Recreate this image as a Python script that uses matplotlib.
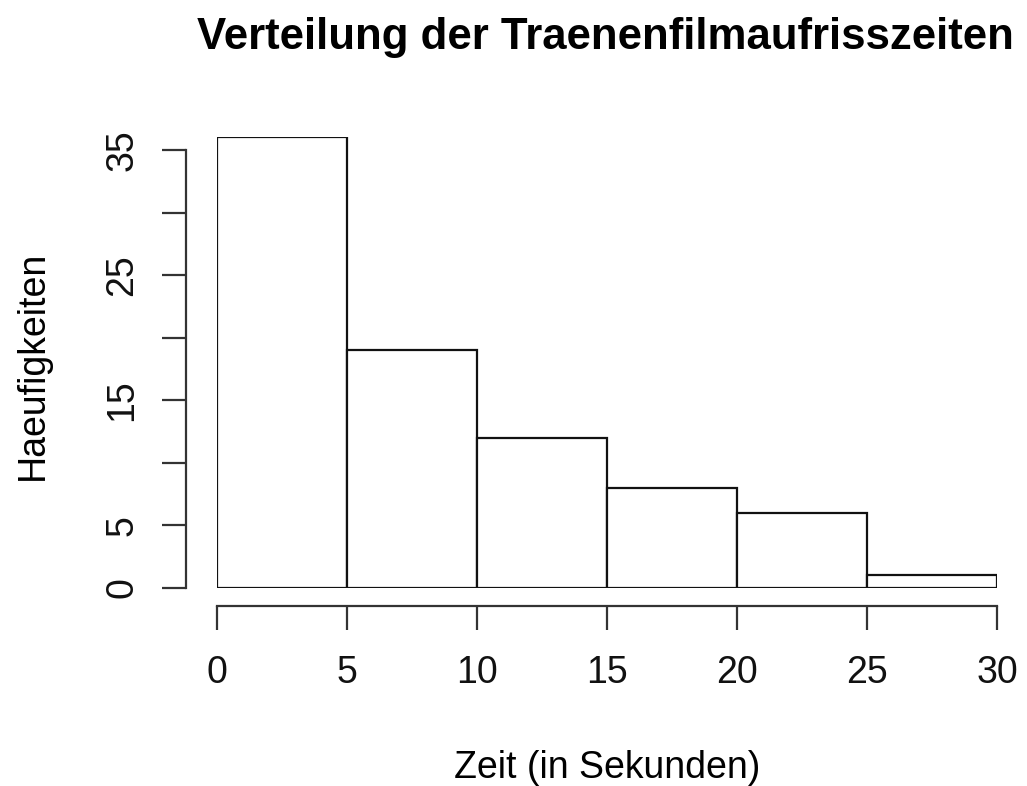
import matplotlib.pyplot as plt

plt.rcParams['font.family'] = ['Liberation Sans', 'DejaVu Sans']

# Klassengrenzen und Haeufigkeiten
bin_edges = [0, 5, 10, 15, 20, 25, 30]
counts = [36, 19, 12, 8, 6, 1]
y_ticks = [0, 5, 10, 15, 20, 25, 30, 35]
y_tick_labels = ['0', '5', '', '15', '', '25', '', '35']
x_ticks = [0, 5, 10, 15, 20, 25, 30]

W, H = 1027, 786
fig = plt.figure(figsize=(W / 100, H / 100), dpi=100)

# Plotbereich so, dass 0..30 / 0..35 auf die Pixel des R-Plots fallen
px_per_y = (588 - 150) / 35
top_px = 588 - 36 * px_per_y
ax = fig.add_axes([217 / W, (H - 588) / H, (997 - 217) / W, (588 - top_px) / H])

widths = [b - a for a, b in zip(bin_edges[:-1], bin_edges[1:])]
ax.bar(bin_edges[:-1], counts, width=widths, align='edge',
       facecolor='white', edgecolor='#111111', linewidth=1.6)

ax.set_xlim(0, 30)
ax.set_ylim(0, 36)

for s in ['top', 'right']:
    ax.spines[s].set_visible(False)
ax.spines['left'].set_position(('outward', 31 * 0.72))
ax.spines['bottom'].set_position(('outward', 18 * 0.72))
ax.spines['left'].set_bounds(0, 35)
ax.spines['bottom'].set_bounds(0, 30)
for s in ['left', 'bottom']:
    ax.spines[s].set_linewidth(1.6)
    ax.spines[s].set_color('#333333')

ax.set_xticks(x_ticks)
ax.set_yticks(y_ticks)
ax.set_yticklabels(y_tick_labels, rotation=90, va='center')
ax.tick_params(axis='both', length=17, width=1.6, color='#333333',
               labelsize=27, labelcolor='#111111')
ax.tick_params(axis='x', pad=18)
ax.tick_params(axis='y', pad=16)

fig.text(605 / W, 1 - 38 / H, 'Verteilung der Traenenfilmaufrisszeiten',
         ha='center', va='center', fontsize=31.5, fontweight='bold')
fig.text(607 / W, 1 - 768 / H, 'Zeit (in Sekunden)',
         ha='center', va='center', fontsize=27)
fig.text(33 / W, 1 - 365 / H, 'Haeufigkeiten', rotation=90,
         ha='center', va='center', fontsize=27)

fig.savefig('out.png', dpi=100)
